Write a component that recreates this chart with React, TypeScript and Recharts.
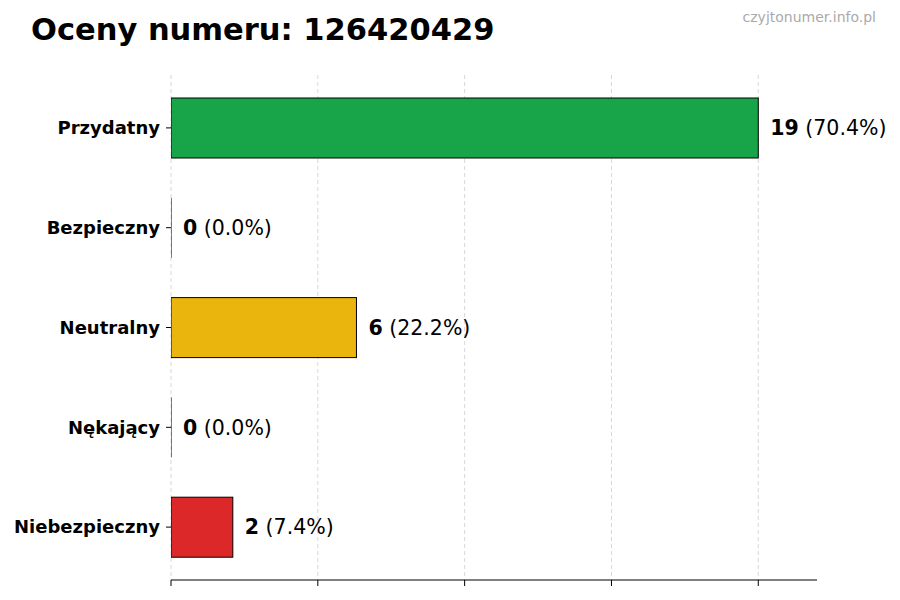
import { BarChart, Bar, XAxis, YAxis, CartesianGrid, Cell, LabelList } from 'recharts';

const categories = ['Przydatny', 'Bezpieczny', 'Neutralny', 'Nękający', 'Niebezpieczny'];
const counts = [19, 0, 6, 0, 2];
const percents = ['70.4', '0.0', '22.2', '0.0', '7.4'];
const barColors = ['#18a54a', '#9ca3af', '#eab50c', '#6b7280', '#dc2828'];
const xTicks = [0, 4.75, 9.5, 14.25, 19];
const xMax = 20.9;

const data = categories.map((name, i) => ({ name, count: counts[i] }));

const FONT = '"DejaVu Sans", sans-serif';

// zero-width bars still show their black edge, like the original
const BarShape = (props: any) => {
    const { x, y, width, height, fill } = props;
    if (!width) {
        return <line x1={x} x2={x} y1={y} y2={y + height} stroke="#000" strokeWidth={1} />;
    }
    return <rect x={x} y={y} width={width} height={height} fill={fill} stroke="#000" strokeWidth={1} />;
};

const ValueLabel = (props: any) => {
    const { x, y, width, height, index } = props;
    return (
        <text x={x + width + 12} y={y + height / 2} dy="0.35em" fontFamily={FONT} fontSize={20.5} fill="#000">
            <tspan fontWeight="bold">{counts[index]}</tspan>
            <tspan> ({percents[index]}%)</tspan>
        </text>
    );
};

const YTick = (props: any) => {
    const { x, y, payload } = props;
    return (
        <text x={x} y={y} dy="0.35em" textAnchor="end" fontFamily={FONT} fontSize={18} fontWeight="bold" fill="#000">
            {payload.value}
        </text>
    );
};

const NoTick = () => null;

// grid only at the x ticks, not at the right edge of the plot
const gridX = ({ offset }: any) => xTicks.map((t) => offset.left + (t / xMax) * offset.width);

const App = () => {
    return (
        <div style={{ position: 'absolute', left: 0, top: 0, width: 900, height: 600, background: '#fff' }}>
            <div
                style={{
                    position: 'absolute',
                    left: 31,
                    top: 12,
                    fontFamily: FONT,
                    fontWeight: 'bold',
                    fontSize: 30.5,
                    color: '#000',
                    whiteSpace: 'nowrap',
                }}
            >
                Oceny numeru: 126420429
            </div>
            <div
                style={{
                    position: 'absolute',
                    right: 24,
                    top: 9,
                    fontFamily: FONT,
                    fontSize: 14,
                    color: '#aaaaaa',
                }}
            >
                czyjtonumer.info.pl
            </div>
            <BarChart
                width={900}
                height={600}
                data={data}
                layout="vertical"
                margin={{ top: 75, right: 83, bottom: 10, left: 0 }}
                barSize={60}
            >
                <CartesianGrid
                    horizontal={false}
                    stroke="#d8d8d8"
                    strokeDasharray="4 3"
                    verticalCoordinatesGenerator={gridX}
                />
                <XAxis
                    type="number"
                    domain={[0, xMax]}
                    ticks={xTicks}
                    tick={<NoTick />}
                    tickLine={{ stroke: '#000' }}
                    tickSize={6}
                    axisLine={{ stroke: '#000' }}
                    height={10}
                    allowDataOverflow
                />
                <YAxis
                    type="category"
                    dataKey="name"
                    width={171}
                    axisLine={false}
                    tickLine={{ stroke: '#000' }}
                    tickSize={5}
                    tickMargin={6}
                    tick={<YTick />}
                    padding={{ top: 3, bottom: 3 }}
                />
                <Bar dataKey="count" shape={<BarShape />} isAnimationActive={false}>
                    {data.map((d, i) => (
                        <Cell key={d.name} fill={barColors[i]} />
                    ))}
                    <LabelList dataKey="count" content={<ValueLabel />} />
                </Bar>
            </BarChart>
        </div>
    );
};

export default App;
